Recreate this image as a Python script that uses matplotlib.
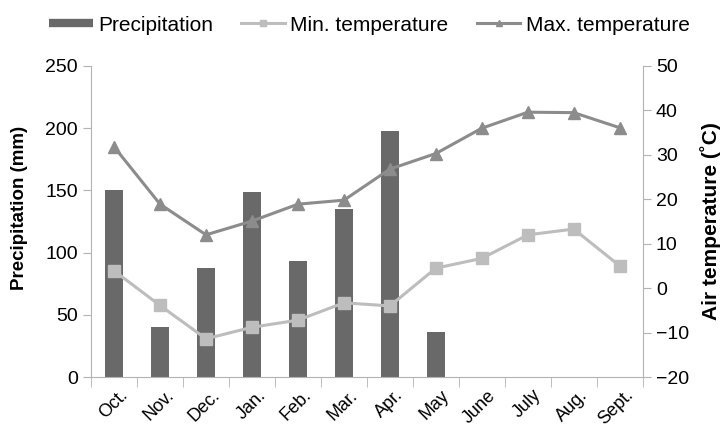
import matplotlib.pyplot as plt
import matplotlib.transforms as mtrans
from matplotlib.lines import Line2D
import numpy as np

plt.rcParams['font.family'] = ['Liberation Sans', 'DejaVu Sans']

months = ['Oct.', 'Nov.', 'Dec.', 'Jan.', 'Feb.', 'Mar.', 'Apr.', 'May',
          'June', 'July', 'Aug.', 'Sept.']
precip = [150, 40, 88, 149, 93, 135, 198, 36, 0, 0, 0, 0]
t_min = [3.9, -3.9, -11.4, -8.8, -7.2, -3.3, -4.0, 4.5, 6.7, 12.0, 13.3, 5.0]
t_max = [31.8, 18.9, 12.0, 15.1, 18.9, 19.8, 26.8, 30.3, 36.0, 39.6, 39.5, 36.1]

bar_col = '#696969'
min_col = '#bdbdbd'
max_col = '#8c8c8c'
axis_col = '#b3b3b3'
x = np.arange(len(months))

fig = plt.figure(figsize=(7.23, 4.33), dpi=100)
ax = fig.add_axes([0.126, 0.1293, 0.763, 0.7183])
ax2 = ax.twinx()

ax.bar(x, precip, width=0.38, color=bar_col, zorder=2)
l1, = ax2.plot(x, t_min, color=min_col, lw=2.2, marker='s', ms=8)
l2, = ax2.plot(x, t_max, color=max_col, lw=2.2, marker='^', ms=8)

ax.set_xlim(-0.5, 11.5)
ax.set_ylim(0, 250)
ax.set_yticks(range(0, 251, 50))
ax2.set_ylim(-20, 50)
ax2.set_yticks(range(-20, 51, 10))

ax.set_xticks(x)
ax.set_xticklabels(months, rotation=45, ha='right', rotation_mode='anchor')
ax.set_xticks(np.arange(-0.5, 12, 1), minor=True)
ax.tick_params(axis='x', which='major', length=0, pad=7, labelsize=13)
ax.tick_params(axis='x', which='minor', length=7, color=axis_col)
ax.tick_params(axis='y', length=6, color=axis_col, labelsize=14)
ax2.tick_params(axis='y', length=6, color=axis_col, labelsize=14)
shift = mtrans.ScaledTranslation(0.05, 0, fig.dpi_scale_trans)
for lab in ax.get_xticklabels():
    lab.set_transform(lab.get_transform() + shift)

for a in (ax, ax2):
    a.spines['top'].set_visible(False)
    for s in ('left', 'right', 'bottom'):
        a.spines[s].set_color(axis_col)
ax.spines['right'].set_visible(False)
ax2.spines['left'].set_visible(False)
ax2.spines['bottom'].set_visible(False)

fig.text(20 / 723, 1 - 207.5 / 433, 'Precipitation (mm)', rotation=90,
         ha='center', va='center', fontsize=13.5, fontweight='bold')
fig.text(711 / 723, 1 - 221.5 / 433, 'Air temperature (˚C)', rotation=90,
         ha='center', va='center', fontsize=15, fontweight='bold')

bar_handle = Line2D([], [], color=bar_col, lw=6, solid_capstyle='butt')
fig.legend([bar_handle, l1, l2], ['Precipitation', 'Min. temperature', 'Max. temperature'],
           loc='center', bbox_to_anchor=(0.511, 0.942), ncol=3, frameon=False,
           fontsize=15, handlelength=2.1, handletextpad=0.25, columnspacing=1.35,
           markerscale=0.6)

fig.savefig('out.png', dpi=100)
